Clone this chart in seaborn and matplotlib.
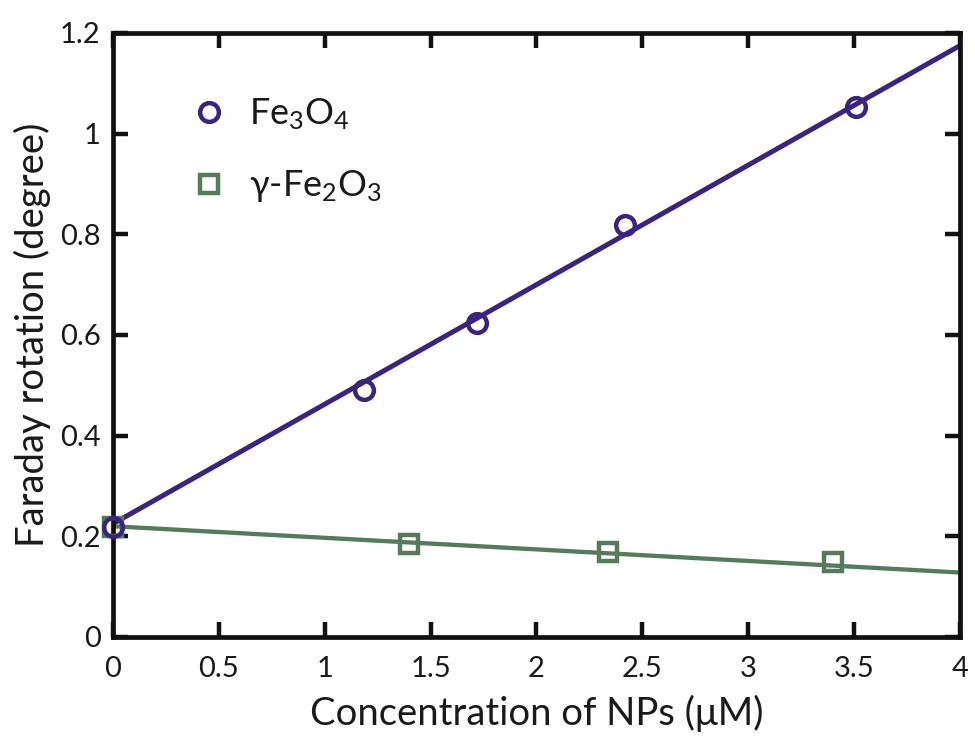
import matplotlib
matplotlib.use("Agg")
import matplotlib.pyplot as plt
from matplotlib.lines import Line2D
import seaborn as sns
import pandas as pd

# Measured Faraday rotation versus nanoparticle concentration
fe3o4_conc = [0.0, 1.185, 1.72, 2.42, 3.51]
fe3o4_rot = [0.219, 0.491, 0.624, 0.819, 1.053]

fe2o3_conc = [0.0, 1.40, 2.34, 3.40]
fe2o3_rot = [0.218, 0.185, 0.169, 0.149]

# Linear fits drawn across the full concentration range
fit_conc = [0.0, 4.0]
fe3o4_fit = [0.225, 1.175]
fe2o3_fit = [0.220, 0.128]

xticks = [0, 0.5, 1, 1.5, 2, 2.5, 3, 3.5, 4]
xtick_labels = ["0", "0.5", "1", "1.5", "2", "2.5", "3", "3.5", "4"]
yticks = [0, 0.2, 0.4, 0.6, 0.8, 1.0, 1.2]
ytick_labels = ["0", "0.2", "0.4", "0.6", "0.8", "1", "1.2"]

labels = ["Fe$_3$O$_4$", "γ-Fe$_2$O$_3$"]

PURPLE = "#3b2480"
GREEN = "#567a5c"

sns.set_theme(style="ticks")
plt.rcParams["font.family"] = ["Lato", "DejaVu Sans"]
plt.rcParams["mathtext.default"] = "regular"

fig = plt.figure(figsize=(9.75, 7.38), dpi=100)
ax = fig.add_axes([0.1159, 0.1369, 0.8687, 0.8184])

fit_df = pd.DataFrame({"conc": fit_conc, "a": fe3o4_fit, "b": fe2o3_fit})
sns.lineplot(data=fit_df, x="conc", y="a", ax=ax, color=PURPLE, lw=3.6, zorder=2)
sns.lineplot(data=fit_df, x="conc", y="b", ax=ax, color=GREEN, lw=3.1, zorder=2)

pts_b = pd.DataFrame({"conc": fe2o3_conc, "rot": fe2o3_rot})
pts_a = pd.DataFrame({"conc": fe3o4_conc, "rot": fe3o4_rot})
sns.lineplot(data=pts_b, x="conc", y="rot", ax=ax, linestyle="", marker="s",
             markersize=13, markerfacecolor="none", markeredgecolor=GREEN,
             markeredgewidth=3.2, clip_on=False, zorder=3)
sns.lineplot(data=pts_a, x="conc", y="rot", ax=ax, linestyle="", marker="o",
             markersize=13.5, markerfacecolor="none", markeredgecolor=PURPLE,
             markeredgewidth=3.2, clip_on=False, zorder=4)

ax.set_xlim(0, 4)
ax.set_ylim(0, 1.2)
ax.set_xticks(xticks)
ax.set_xticklabels(xtick_labels)
ax.set_yticks(yticks)
ax.set_yticklabels(ytick_labels)

for side in ["left", "right", "top", "bottom"]:
    ax.spines[side].set_visible(True)
    ax.spines[side].set_linewidth(3.4)
    ax.spines[side].set_color("#111111")

ax.tick_params(axis="both", which="major", direction="in", length=11, width=3.2,
               color="#111111", labelsize=21, labelcolor="#1a1a1a",
               top=True, right=True)
ax.tick_params(axis="x", pad=14)
ax.tick_params(axis="y", pad=9)

ax.set_xlabel("Concentration of NPs (μM)", fontsize=27.5, color="#1a1a1a", labelpad=9)
ax.set_ylabel("Faraday rotation (degree)", fontsize=27.5, color="#1a1a1a", labelpad=6)

handles = [
    Line2D([], [], linestyle="", marker="o", markersize=13.5, markerfacecolor="none",
           markeredgecolor=PURPLE, markeredgewidth=3.2),
    Line2D([], [], linestyle="", marker="s", markersize=13, markerfacecolor="none",
           markeredgecolor=GREEN, markeredgewidth=3.2),
]
leg = ax.legend(handles, labels, loc="upper left", bbox_to_anchor=(0.075, 0.919),
                frameon=False, fontsize=26, handlelength=1.0, handletextpad=0.6,
                labelspacing=1.0, borderaxespad=0)
for t in leg.get_texts():
    t.set_color("#1a1a1a")

fig.savefig("out.png", dpi=100, facecolor="white")
